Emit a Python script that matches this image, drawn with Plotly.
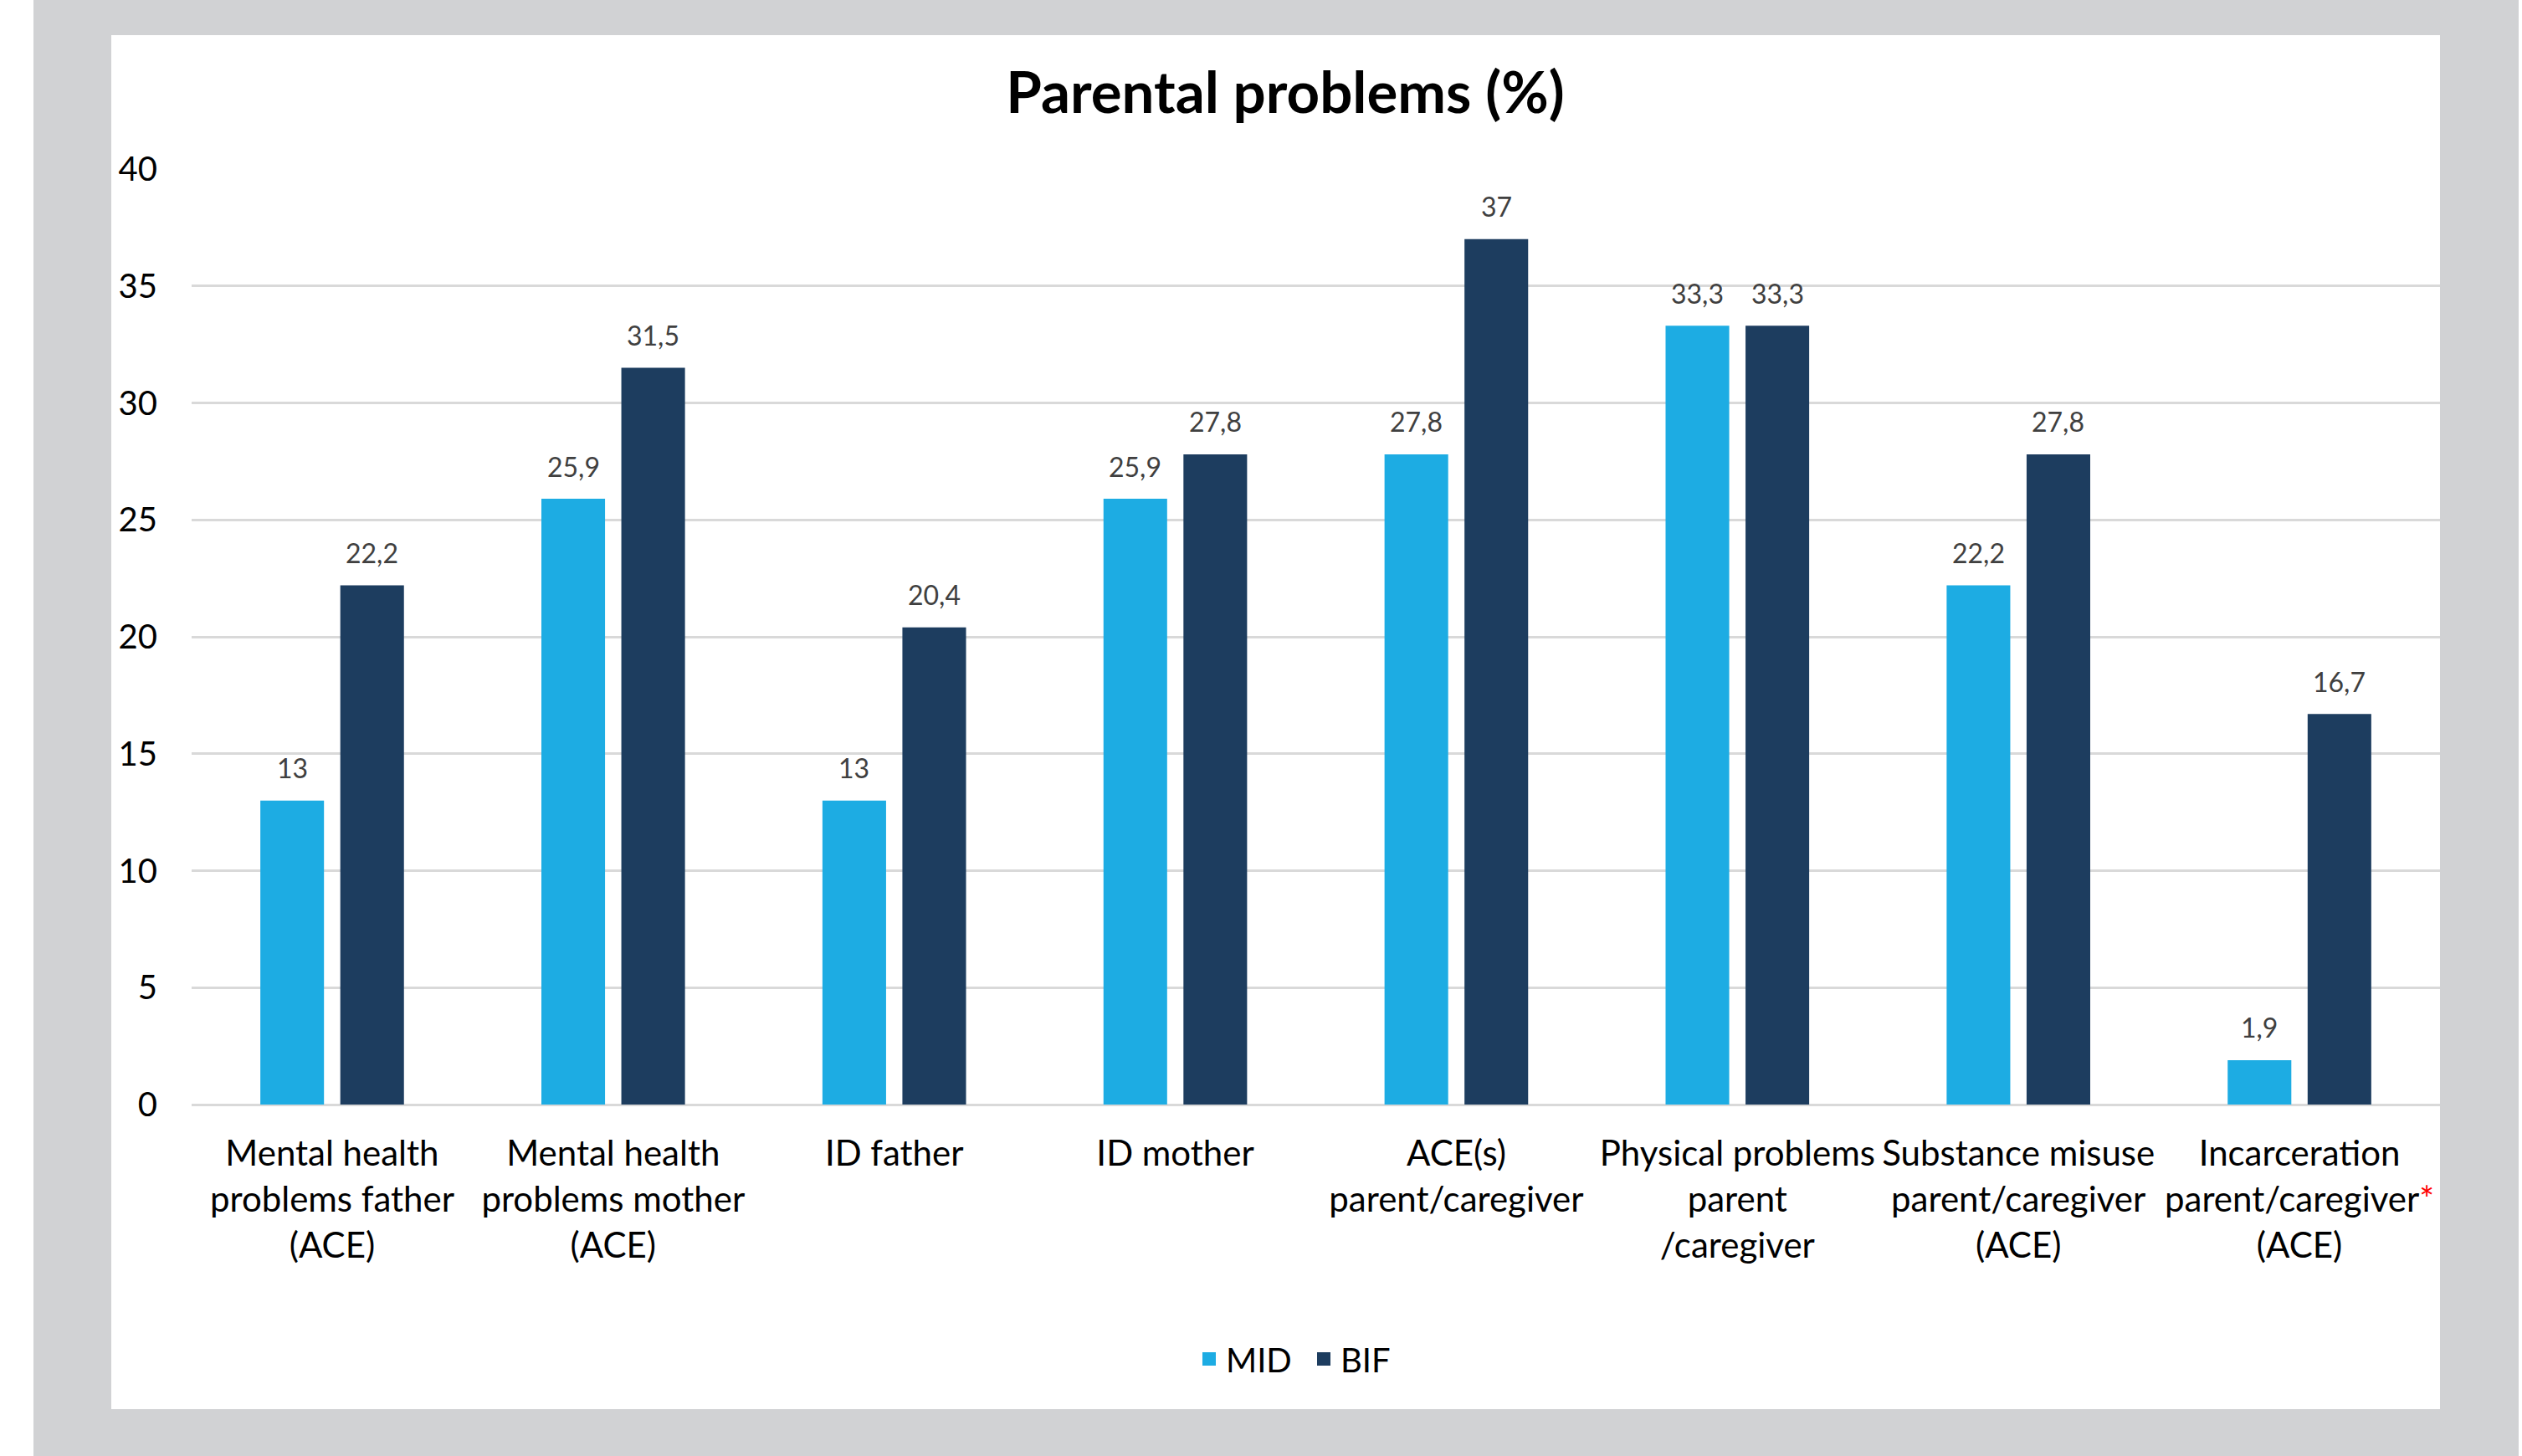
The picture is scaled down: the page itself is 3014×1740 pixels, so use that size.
import plotly.graph_objects as go

categories = [
    "Mental health<br>problems father<br>(ACE)",
    "Mental health<br>problems mother<br>(ACE)",
    "ID father",
    "ID mother",
    "ACE(s)<br>parent/caregiver",
    "Physical problems<br>parent<br>/caregiver",
    "Substance misuse<br>parent/caregiver<br>(ACE)",
    "Incarceration<br>parent/caregiver<span style='color:#ff0000'>*</span><br>(ACE)",
]
mid_values = [13, 25.9, 13, 25.9, 27.8, 33.3, 22.2, 1.9]
bif_values = [22.2, 31.5, 20.4, 27.8, 37, 33.3, 27.8, 16.7]
series_names = ["MID", "BIF"]
y_ticks = [0, 5, 10, 15, 20, 25, 30, 35, 40]

MID_COLOR = "#1dace3"
BIF_COLOR = "#1d3d5f"
FONT = "Lato"

W, H = 3014, 1740
L, R, T, B = 229, 98, 202, 420
pw, ph = W - L - R, H - T - B

def px_x(p):
    return (p - L) / pw

def px_y(p):
    return (H - B - p) / ph

fig = go.Figure()
for name, vals, col in [(series_names[0], mid_values, MID_COLOR), (series_names[1], bif_values, BIF_COLOR)]:
    fig.add_trace(go.Bar(x=categories, y=vals, name=name, marker=dict(color=col, line=dict(width=0)),
                         showlegend=False))
# legend proxies
for name, col in [(series_names[0], MID_COLOR), (series_names[1], BIF_COLOR)]:
    fig.add_trace(go.Scatter(x=[None], y=[None], mode="markers", name=name,
                             marker=dict(symbol="square", size=25, color=col)))

def fmt(v):
    s = ("%g" % v).replace(".", ",")
    return s

annotations = []
cat_w = pw / len(categories)
offset = cat_w * (1 - 0.431) / 4
for vals, sh in [(mid_values, -offset), (bif_values, offset)]:
    for c, v in zip(categories, vals):
        annotations.append(dict(x=c, y=v, xref="x", yref="y", text=fmt(v), showarrow=False,
                                xshift=sh, yshift=39, yanchor="middle",
                                font=dict(family=FONT, size=32, color="#404040")))

shapes = [
    dict(type="rect", xref="paper", yref="paper", x0=px_x(40), x1=px_x(3010), y0=px_y(1740), y1=px_y(0),
         fillcolor="#d1d2d4", line=dict(width=0), layer="below"),
    dict(type="rect", xref="paper", yref="paper", x0=px_x(133), x1=px_x(2916), y0=px_y(1684), y1=px_y(42),
         fillcolor="#ffffff", line=dict(width=0), layer="below"),
]

fig.update_layout(
    width=W, height=H,
    margin=dict(l=L, r=R, t=T, b=B, pad=0),
    paper_bgcolor="#ffffff",
    plot_bgcolor="rgba(0,0,0,0)",
    barmode="group", bargap=0.431, bargroupgap=0.204,
    title=dict(text="<b>Parental problems (%)</b>", xref="container", yref="container",
               x=1536 / W, y=1 - 111 / H, xanchor="center", yanchor="middle",
               font=dict(family=FONT, size=69, color="#000000")),
    font=dict(family=FONT, color="#000000"),
    legend=dict(orientation="h", xanchor="center", yanchor="middle", x=px_x(1562), y=px_y(1624),
                font=dict(family=FONT, size=40, color="#000000"), itemsizing="trace",
                entrywidth=92, entrywidthmode="pixels",
                bgcolor="rgba(0,0,0,0)", tracegroupgap=0),
    annotations=annotations,
    shapes=shapes,
)
fig.update_xaxes(type="category", categoryorder="array", categoryarray=categories,
                 showgrid=False, showline=False, zeroline=False,
                 ticks="outside", ticklen=22, tickcolor="rgba(0,0,0,0)",
                 tickfont=dict(family=FONT, size=42, color="#000000"))
fig.update_yaxes(range=[0, 40], tickvals=y_ticks, showgrid=True, gridcolor="#d9d9d9", gridwidth=2.5,
                 zeroline=True, zerolinecolor="#d9d9d9", zerolinewidth=2.5, showline=False,
                 ticks="", ticklabelstandoff=40,
                 tickfont=dict(family=FONT, size=40, color="#000000"))

fig.write_html("out.html")
